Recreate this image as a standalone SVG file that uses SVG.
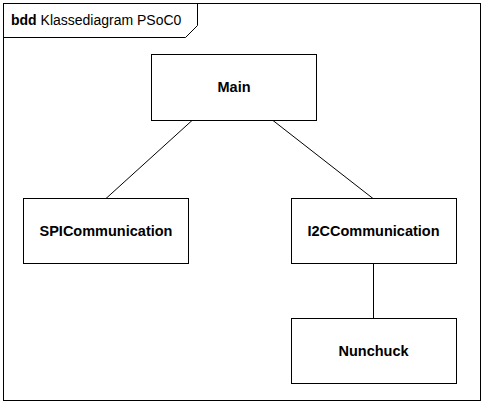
<svg xmlns="http://www.w3.org/2000/svg" width="486" height="406" viewBox="0 0 486 406">
<style>
.box{fill:#fff;stroke:#000;stroke-width:1}
.lbl{font-family:"Liberation Sans",Arial,sans-serif;font-size:14.5px;font-weight:bold;text-anchor:middle;fill:#000}
.conn line{stroke:#000;stroke-width:1}
</style>
<rect width="486" height="406" fill="#fff"/>
<g id="frame">
<rect x="3.5" y="3.5" width="477" height="397" fill="none" stroke="#000"/>
<path d="M3.5,37.5 H185.5 L197.5,25.5 V3.5" fill="none" stroke="#000"/>
<text x="11" y="25" font-family="'Liberation Sans',Arial,sans-serif" font-size="14"><tspan font-weight="bold">bdd</tspan> Klassediagram PSoC0</text>
</g>
<g id="connectors" class="conn">
<line x1="192" y1="120.5" x2="106" y2="198.5"/>
<line x1="273" y1="120.5" x2="373" y2="198.5"/>
<line x1="373.5" y1="263.5" x2="373.5" y2="318.5"/>
</g>
<g id="Main">
<rect class="box" x="151.5" y="54.5" width="165" height="66"/>
<text class="lbl" x="234" y="92">Main</text>
</g>
<g id="SPICommunication">
<rect class="box" x="23.5" y="198.5" width="165" height="65"/>
<text class="lbl" x="106" y="236">SPICommunication</text>
</g>
<g id="I2CCommunication">
<rect class="box" x="291.5" y="198.5" width="165" height="65"/>
<text class="lbl" x="373.5" y="236">I2CCommunication</text>
</g>
<g id="Nunchuck">
<rect class="box" x="291.5" y="318.5" width="165" height="65"/>
<text class="lbl" x="373.5" y="356">Nunchuck</text>
</g>
</svg>
